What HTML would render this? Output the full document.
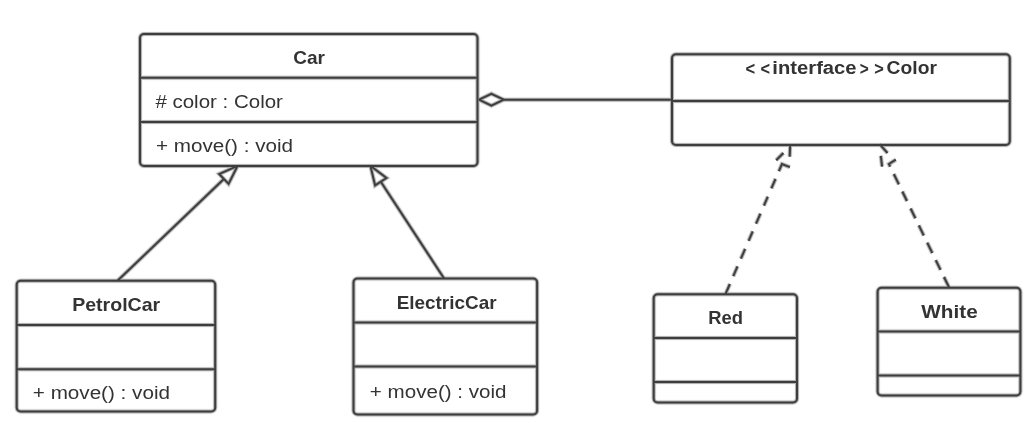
<!DOCTYPE html>
<html><head><meta charset="utf-8"><style>
html,body{margin:0;padding:0;background:#fff;width:1035px;height:423px;overflow:hidden}
svg{display:block}
text{font-family:"Liberation Sans",sans-serif;fill:#333333}
.tx{will-change:transform}
</style></head><body>
<svg width="1035" height="423" viewBox="0 0 1035 423">
<g fill="none" stroke="#f8f8f8" stroke-width="6" stroke-linejoin="miter" stroke-miterlimit="2">
<rect x="140" y="34" width="337.5" height="132" rx="4"/>
<path d="M140 77.8H477.5"/>
<path d="M140 122H477.5"/>
<rect x="672" y="54.2" width="337.8" height="90.8" rx="4"/>
<path d="M672 101H1009.8"/>
<rect x="16.7" y="280.8" width="198.5" height="130.6" rx="4"/>
<path d="M16.7 324.9H215.2"/>
<path d="M16.7 369.2H215.2"/>
<rect x="353.5" y="278.5" width="183.6" height="135.9" rx="4"/>
<path d="M353.5 322.5H537.1"/>
<path d="M353.5 366.5H537.1"/>
<rect x="653.7" y="294.2" width="143.3" height="108.2" rx="4"/>
<path d="M653.7 338.1H797"/>
<path d="M653.7 382H797"/>
<rect x="877.6" y="287.8" width="142.8" height="107.6" rx="4"/>
<path d="M877.6 331.5H1020.4"/>
<path d="M877.6 375.5H1020.4"/>
<path d="M503.8 99.7H672"/>
<path d="M479 99.7L491.4 93.8L503.8 99.7L491.4 105.6Z"/>
<path d="M117.5 280.8L223.88 178.94"/>
<path d="M237.6 165.8L228.58 183.85L219.17 174.03Z"/>
<path d="M444.1 278.5L380.8 181.7"/>
<path d="M370.4 165.8L386.49 177.98L375.11 185.42Z"/>
<path d="M775.51 178.9L771.39 188.4"/>
<path d="M767.78 196.7L763.92 205.6"/>
<path d="M760.44 213.6L756.06 223.7"/>
<path d="M752.71 231.4L748.63 240.8"/>
<path d="M745.11 248.9L740.9 258.6"/>
<path d="M737.51 266.4L733.26 276.2"/>
<path d="M729.87 284L725.44 294.2"/>
<path d="M778.86 171.2L781.94 164.1L789.9 167.1"/>
<path d="M790.2 144.1L789.7 156.7"/>
<path d="M783.4 153L776.2 160.2"/>
<path d="M893.81 174L898.87 184.4"/>
<path d="M902.33 191.5L906.96 201"/>
<path d="M910.61 208.5L915.39 218.3"/>
<path d="M918.85 225.4L923.76 235.5"/>
<path d="M927.22 242.6L932.29 253"/>
<path d="M935.75 260.1L940.52 269.9"/>
<path d="M943.98 277L949.24 287.8"/>
<path d="M890.2 166.6L888.94 164L895.8 159.7"/>
<path d="M879.6 144.1L887.5 153"/>
<path d="M880.8 155.8L882.1 166.6"/>
</g>
<g fill="none" stroke="#b2b2b2" stroke-width="4" stroke-linejoin="miter" stroke-miterlimit="2">
<rect x="140" y="34" width="337.5" height="132" rx="4"/>
<path d="M140 77.8H477.5"/>
<path d="M140 122H477.5"/>
<rect x="672" y="54.2" width="337.8" height="90.8" rx="4"/>
<path d="M672 101H1009.8"/>
<rect x="16.7" y="280.8" width="198.5" height="130.6" rx="4"/>
<path d="M16.7 324.9H215.2"/>
<path d="M16.7 369.2H215.2"/>
<rect x="353.5" y="278.5" width="183.6" height="135.9" rx="4"/>
<path d="M353.5 322.5H537.1"/>
<path d="M353.5 366.5H537.1"/>
<rect x="653.7" y="294.2" width="143.3" height="108.2" rx="4"/>
<path d="M653.7 338.1H797"/>
<path d="M653.7 382H797"/>
<rect x="877.6" y="287.8" width="142.8" height="107.6" rx="4"/>
<path d="M877.6 331.5H1020.4"/>
<path d="M877.6 375.5H1020.4"/>
<path d="M503.8 99.7H672"/>
<path d="M479 99.7L491.4 93.8L503.8 99.7L491.4 105.6Z"/>
<path d="M117.5 280.8L223.88 178.94"/>
<path d="M237.6 165.8L228.58 183.85L219.17 174.03Z"/>
<path d="M444.1 278.5L380.8 181.7"/>
<path d="M370.4 165.8L386.49 177.98L375.11 185.42Z"/>
<path d="M775.51 178.9L771.39 188.4"/>
<path d="M767.78 196.7L763.92 205.6"/>
<path d="M760.44 213.6L756.06 223.7"/>
<path d="M752.71 231.4L748.63 240.8"/>
<path d="M745.11 248.9L740.9 258.6"/>
<path d="M737.51 266.4L733.26 276.2"/>
<path d="M729.87 284L725.44 294.2"/>
<path d="M778.86 171.2L781.94 164.1L789.9 167.1"/>
<path d="M790.2 144.1L789.7 156.7"/>
<path d="M783.4 153L776.2 160.2"/>
<path d="M893.81 174L898.87 184.4"/>
<path d="M902.33 191.5L906.96 201"/>
<path d="M910.61 208.5L915.39 218.3"/>
<path d="M918.85 225.4L923.76 235.5"/>
<path d="M927.22 242.6L932.29 253"/>
<path d="M935.75 260.1L940.52 269.9"/>
<path d="M943.98 277L949.24 287.8"/>
<path d="M890.2 166.6L888.94 164L895.8 159.7"/>
<path d="M879.6 144.1L887.5 153"/>
<path d="M880.8 155.8L882.1 166.6"/>
</g>

<g fill="none" stroke="#3e3e3e" stroke-width="2" stroke-linejoin="miter" stroke-miterlimit="2">
<rect x="140" y="34" width="337.5" height="132" rx="4"/>
<path d="M140 77.8H477.5"/>
<path d="M140 122H477.5"/>
<rect x="672" y="54.2" width="337.8" height="90.8" rx="4"/>
<path d="M672 101H1009.8"/>
<rect x="16.7" y="280.8" width="198.5" height="130.6" rx="4"/>
<path d="M16.7 324.9H215.2"/>
<path d="M16.7 369.2H215.2"/>
<rect x="353.5" y="278.5" width="183.6" height="135.9" rx="4"/>
<path d="M353.5 322.5H537.1"/>
<path d="M353.5 366.5H537.1"/>
<rect x="653.7" y="294.2" width="143.3" height="108.2" rx="4"/>
<path d="M653.7 338.1H797"/>
<path d="M653.7 382H797"/>
<rect x="877.6" y="287.8" width="142.8" height="107.6" rx="4"/>
<path d="M877.6 331.5H1020.4"/>
<path d="M877.6 375.5H1020.4"/>
<path d="M503.8 99.7H672"/>
<path d="M479 99.7L491.4 93.8L503.8 99.7L491.4 105.6Z"/>
<path d="M117.5 280.8L223.88 178.94"/>
<path d="M237.6 165.8L228.58 183.85L219.17 174.03Z"/>
<path d="M444.1 278.5L380.8 181.7"/>
<path d="M370.4 165.8L386.49 177.98L375.11 185.42Z"/>
<path d="M775.51 178.9L771.39 188.4"/>
<path d="M767.78 196.7L763.92 205.6"/>
<path d="M760.44 213.6L756.06 223.7"/>
<path d="M752.71 231.4L748.63 240.8"/>
<path d="M745.11 248.9L740.9 258.6"/>
<path d="M737.51 266.4L733.26 276.2"/>
<path d="M729.87 284L725.44 294.2"/>
<path d="M778.86 171.2L781.94 164.1L789.9 167.1"/>
<path d="M790.2 144.1L789.7 156.7"/>
<path d="M783.4 153L776.2 160.2"/>
<path d="M893.81 174L898.87 184.4"/>
<path d="M902.33 191.5L906.96 201"/>
<path d="M910.61 208.5L915.39 218.3"/>
<path d="M918.85 225.4L923.76 235.5"/>
<path d="M927.22 242.6L932.29 253"/>
<path d="M935.75 260.1L940.52 269.9"/>
<path d="M943.98 277L949.24 287.8"/>
<path d="M890.2 166.6L888.94 164L895.8 159.7"/>
<path d="M879.6 144.1L887.5 153"/>
<path d="M880.8 155.8L882.1 166.6"/>
</g>
<g class="tx">
<text x="293.2" y="63.9" font-weight="bold" font-size="19" fill="#3e3e3e" textLength="31.69" lengthAdjust="spacingAndGlyphs">Car</text>
<text x="155.4" y="107.7" font-weight="normal" font-size="18" fill="#505050" textLength="127.55" lengthAdjust="spacingAndGlyphs"># color : Color</text>
<text x="155.95" y="152.2" font-weight="normal" font-size="18" fill="#505050" textLength="137.12" lengthAdjust="spacingAndGlyphs">+ move() : void</text>
<text x="745.38" y="74.5" font-weight="bold" font-size="18" fill="#3e3e3e" textLength="9.7" lengthAdjust="spacingAndGlyphs">&lt;</text>
<text x="760.49" y="74.5" font-weight="bold" font-size="18" fill="#3e3e3e" textLength="9.58" lengthAdjust="spacingAndGlyphs">&lt;</text>
<text x="772.38" y="73.6" font-weight="bold" font-size="18" fill="#3e3e3e" textLength="84.2" lengthAdjust="spacingAndGlyphs">interface</text>
<text x="859.74" y="74.5" font-weight="bold" font-size="18" fill="#3e3e3e" textLength="9.0" lengthAdjust="spacingAndGlyphs">&gt;</text>
<text x="874.19" y="74.5" font-weight="bold" font-size="18" fill="#3e3e3e" textLength="9.58" lengthAdjust="spacingAndGlyphs">&gt;</text>
<text x="886.63" y="73.8" font-weight="bold" font-size="18" fill="#3e3e3e" textLength="50.27" lengthAdjust="spacingAndGlyphs">Color</text>
<text x="72.19" y="310.5" font-weight="bold" font-size="18.5" fill="#3e3e3e" textLength="88.0" lengthAdjust="spacingAndGlyphs">PetrolCar</text>
<text x="32.85" y="399.2" font-weight="normal" font-size="18" fill="#505050" textLength="137.12" lengthAdjust="spacingAndGlyphs">+ move() : void</text>
<text x="396.68" y="309.4" font-weight="bold" font-size="18.5" fill="#3e3e3e" textLength="99.84" lengthAdjust="spacingAndGlyphs">ElectricCar</text>
<text x="369.86" y="397.7" font-weight="normal" font-size="18" fill="#505050" textLength="136.71" lengthAdjust="spacingAndGlyphs">+ move() : void</text>
<text x="708.23" y="323.9" font-weight="bold" font-size="19" fill="#3e3e3e" textLength="34.74" lengthAdjust="spacingAndGlyphs">Red</text>
<text x="921.25" y="318.1" font-weight="bold" font-size="19" fill="#3e3e3e" textLength="56.43" lengthAdjust="spacingAndGlyphs">White</text>
</g>
</svg>
</body></html>
